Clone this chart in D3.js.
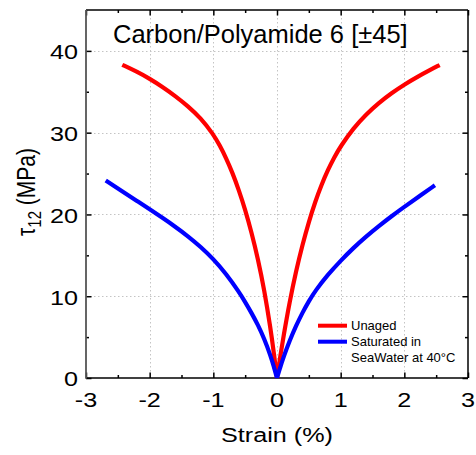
<!DOCTYPE html>
<html>
<head>
<meta charset="utf-8">
<script src="https://cdn.jsdelivr.net/npm/d3@7"></script>
<style>
  html, body { margin: 0; padding: 0; background: #fff; }
  svg { display: block; }
  text { font-family: "Liberation Sans", Arial, sans-serif; fill: #000; }
</style>
</head>
<body>
<div id="chart"></div>
<script>
// ---- data ----
const title = "Carbon/Polyamide 6 [\u00B145]";
const xLabel = "Strain (%)";
const seriesNames = ["Unaged", "Saturated in", "SeaWater at 40\u00B0C"];
const xTicks = [-3, -2, -1, 0, 1, 2, 3];
const yTicks = [0, 10, 20, 30, 40];
const xMinor = [-2.5, -1.5, -0.5, 0.5, 1.5, 2.5];
const yMinor = [5, 15, 25, 35];

// Unaged, negative strain branch
const unagedNegStrain = [0, -0.05, -0.1, -0.2, -0.3, -0.4, -0.5, -0.6, -0.7, -0.8, -0.9, -1.0, -1.2, -1.4, -1.6, -1.8, -2.0, -2.2, -2.43];
const unagedNegTau    = [0, 3.1, 6.0, 10.8, 14.6, 17.8, 20.6, 23.0, 25.1, 26.9, 28.45, 29.8, 31.8, 33.25, 34.5, 35.6, 36.6, 37.45, 38.3];
// Unaged, positive strain branch
const unagedPosStrain = [0, 0.05, 0.1, 0.2, 0.3, 0.4, 0.5, 0.6, 0.7, 0.8, 0.9, 1.0, 1.2, 1.4, 1.6, 1.8, 2.0, 2.2, 2.4, 2.555];
const unagedPosTau    = [0, 2.6, 5.0, 9.4, 13.1, 16.3, 19.1, 21.55, 23.65, 25.45, 27.0, 28.35, 30.55, 32.25, 33.65, 34.85, 35.89, 36.81, 37.65, 38.27];
// Saturated in sea water at 40°C, negative strain branch
const wetNegStrain = [0, -0.05, -0.1, -0.2, -0.3, -0.4, -0.5, -0.6, -0.8, -1.0, -1.2, -1.4, -1.6, -1.8, -2.0, -2.2, -2.4, -2.69];
const wetNegTau    = [0, 1.4, 2.7, 4.8, 6.5, 7.95, 9.3, 10.55, 12.75, 14.55, 16.05, 17.35, 18.51, 19.59, 20.63, 21.65, 22.67, 24.15];
// Saturated, positive strain branch
const wetPosStrain = [0, 0.05, 0.1, 0.2, 0.3, 0.4, 0.5, 0.6, 0.8, 1.0, 1.2, 1.4, 1.6, 1.8, 2.0, 2.2, 2.48];
const wetPosTau    = [0, 1.3, 2.5, 4.6, 6.4, 8.0, 9.4, 10.65, 12.65, 14.35, 15.91, 17.31, 18.59, 19.79, 20.93, 22.03, 23.57];

// ---- layout ----
const W = 476, H = 455;
const L = 86, R = 468, T = 10, B = 378;
const stretch = 1.2;

const svg = d3.select("#chart").append("svg").attr("width", W).attr("height", H);
const x = d3.scaleLinear().domain([-3, 3]).range([L, R]);
const y = d3.scaleLinear().domain([0, 45]).range([B, T]);

// grid
const grid = svg.append("g").attr("stroke", "#c4c4c4").attr("stroke-width", 1).attr("stroke-dasharray", "1.5,2.5");
grid.selectAll(".gx").data(xTicks.filter(d => d > -3 && d < 3)).enter().append("line")
  .attr("x1", d => Math.round(x(d)) + 0.5).attr("x2", d => Math.round(x(d)) + 0.5)
  .attr("y1", T).attr("y2", B);
grid.selectAll(".gy").data(yTicks.filter(d => d > 0)).enter().append("line")
  .attr("y1", d => Math.round(y(d)) + 0.5).attr("y2", d => Math.round(y(d)) + 0.5)
  .attr("x1", L).attr("x2", R);

// axes ticks (inward)
function tickAxis(axisFn, scale, vals, size, transform) {
  const g = svg.append("g").attr("transform", transform)
    .call(axisFn(scale).tickValues(vals).tickSize(-size).tickFormat(""));
  g.select(".domain").remove();
  g.selectAll("line").attr("stroke", "#000").attr("stroke-width", 1.5);
  return g;
}
tickAxis(d3.axisBottom, x, xTicks, 5.5, `translate(0,${B})`);
tickAxis(d3.axisBottom, x, xMinor, 3, `translate(0,${B})`);
tickAxis(d3.axisTop, x, xTicks, 5.5, `translate(0,${T})`);
tickAxis(d3.axisTop, x, xMinor, 3, `translate(0,${T})`);
tickAxis(d3.axisLeft, y, yTicks, 5.5, `translate(${L},0)`);
tickAxis(d3.axisLeft, y, yMinor, 3, `translate(${L},0)`);
tickAxis(d3.axisRight, y, yTicks, 5.5, `translate(${R},0)`);
tickAxis(d3.axisRight, y, yMinor, 3, `translate(${R},0)`);

// frame
svg.append("line").attr("x1", L).attr("x2", R).attr("y1", T).attr("y2", T).attr("stroke", "#000").attr("stroke-width", 1.5);
svg.append("line").attr("x1", L).attr("x2", R).attr("y1", B).attr("y2", B).attr("stroke", "#000").attr("stroke-width", 1.5);
svg.append("line").attr("x1", R).attr("x2", R).attr("y1", T).attr("y2", B).attr("stroke", "#000").attr("stroke-width", 1.5);
svg.append("line").attr("x1", L).attr("x2", L).attr("y1", T).attr("y2", B + 0.75).attr("stroke", "#555").attr("stroke-width", 1.8);

// tick labels
svg.selectAll(".xl").data(xTicks).enter().append("text")
  .attr("transform", d => `translate(${x(d)},${B + 28.7}) scale(${stretch},1)`)
  .attr("text-anchor", "middle").attr("font-size", 21).text(d => d);
svg.selectAll(".yl").data(yTicks).enter().append("text")
  .attr("transform", d => `translate(${L - 8},${y(d) + 8.3}) scale(${stretch},1)`)
  .attr("text-anchor", "end").attr("font-size", 21).text(d => d);

// axis titles
svg.append("text").attr("transform", `translate(${(L + R) / 2},${442}) scale(${stretch},1)`)
  .attr("text-anchor", "middle").attr("font-size", 21).text(xLabel);
const yl = svg.append("text").attr("transform", `translate(35,192) scale(${stretch},1) rotate(-90)`)
  .attr("text-anchor", "middle").attr("font-size", 21);
yl.append("tspan").text("\u03C4");
yl.append("tspan").attr("font-size", 15).attr("dy", 5).text("12");
yl.append("tspan").attr("dy", -5).text(" (MPa)");

// title
svg.append("text").attr("x", 113).attr("y", 43.3).attr("font-size", 25.5).text(title);

// curves
const line = d3.line().x(d => x(d[0])).y(d => y(d[1])).curve(d3.curveBasis);
const branches = [
  { s: unagedNegStrain, t: unagedNegTau, c: "#ff0000" },
  { s: unagedPosStrain, t: unagedPosTau, c: "#ff0000" },
  { s: wetNegStrain, t: wetNegTau, c: "#0000ff" },
  { s: wetPosStrain, t: wetPosTau, c: "#0000ff" }
];
branches.forEach(b => {
  const pts = b.s.map((v, i) => [v, b.t[i]]).sort((a, c) => a[0] - c[0]);
  svg.append("path").attr("d", line(pts)).attr("fill", "none")
    .attr("stroke", b.c).attr("stroke-width", 4.2).attr("stroke-linejoin", "round").attr("stroke-linecap", "butt");
});

// legend
const lg = svg.append("g");
lg.append("line").attr("x1", 318).attr("x2", 347).attr("y1", 325.7).attr("y2", 325.7).attr("stroke", "#ff0000").attr("stroke-width", 4);
lg.append("line").attr("x1", 318).attr("x2", 347).attr("y1", 341.7).attr("y2", 341.7).attr("stroke", "#0000ff").attr("stroke-width", 4);
lg.append("text").attr("x", 351).attr("y", 330.2).attr("font-size", 13).text(seriesNames[0]);
lg.append("text").attr("x", 351).attr("y", 346.2).attr("font-size", 13).text(seriesNames[1]);
lg.append("text").attr("x", 351).attr("y", 362.2).attr("font-size", 13).text(seriesNames[2]);
</script>
</body>
</html>
